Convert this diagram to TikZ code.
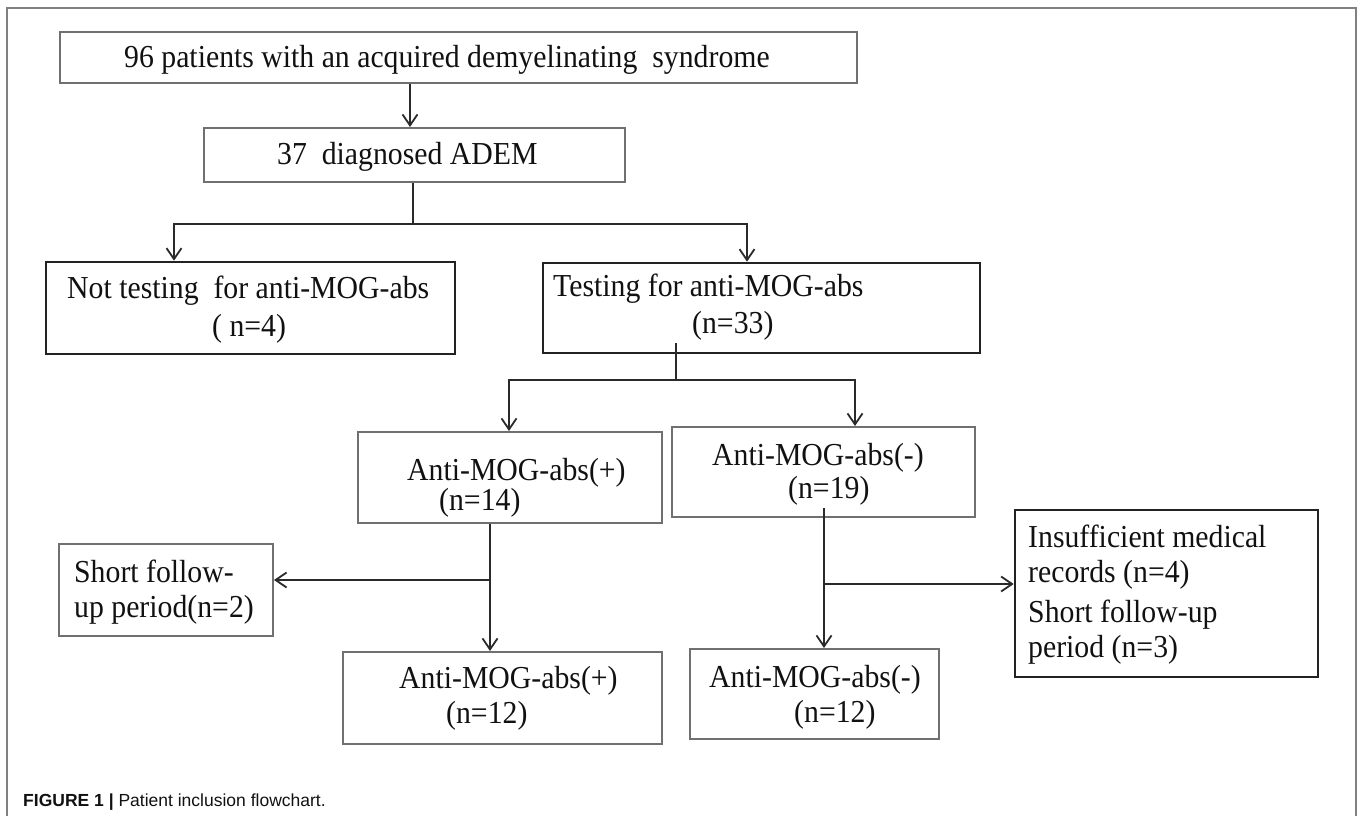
\documentclass[tikz,border=0pt]{standalone}
\usepackage{fontspec}
\setmainfont{Liberation Serif}[FakeStretch=0.93]
\setsansfont{Liberation Sans}
\usetikzlibrary{arrows.meta}
\definecolor{boxgray}{HTML}{707070}
\definecolor{boxdark}{HTML}{222222}
\definecolor{linecol}{HTML}{2A2A2A}
\definecolor{framecol}{HTML}{808080}
\definecolor{txtcol}{HTML}{111111}
\tikzset{
  graybox/.style={draw=boxgray, line width=2pt, inner sep=0pt, fill=none},
  darkbox/.style={draw=boxdark, line width=2.6pt, inner sep=0pt, fill=none},
  conn/.style={draw=linecol, line width=2pt},
  arr/.style={conn, -{Straight Barb[length=11pt,width=15pt,line width=1.8pt]}},
  txt/.style={anchor=base west, inner sep=0pt, text=txtcol, font=\fontsize{32}{38}\selectfont},
}
\begin{document}
\begin{tikzpicture}[x=1pt,y=1pt]
\useasboundingbox (0,0) rectangle (1357,-816);
% outer frame
\draw[framecol, line width=1.3pt] (7,-816) -- (7,-8) -- (1356,-8) -- (1356,-816);

% boxes
\node[graybox, minimum width=797pt, minimum height=50pt] (b1) at (458.5,-57.5) {};
\node[graybox, minimum width=421pt, minimum height=54pt] (b2) at (414.5,-155) {};
\node[darkbox, minimum width=409pt, minimum height=92pt] (b3) at (250.5,-308) {};
\node[darkbox, minimum width=437pt, minimum height=90pt] (b4) at (761.5,-308) {};
\node[graybox, minimum width=304pt, minimum height=91pt] (b5) at (510,-477.5) {};
\node[graybox, minimum width=303pt, minimum height=90pt] (b6) at (823.5,-472) {};
\node[graybox, minimum width=214pt, minimum height=92pt] (b8) at (166,-590) {};
\node[graybox, minimum width=319pt, minimum height=92pt] (b7) at (502.5,-698) {};
\node[graybox, minimum width=249pt, minimum height=90pt] (b9) at (814.5,-694) {};
\node[darkbox, minimum width=303pt, minimum height=167pt] (b10) at (1166.5,-593.5) {};

% texts
\node[txt] (t1) at (124,-67) {96 patients with an acquired demyelinating\ \ syndrome};
\node[txt] (t2) at (277,-164) {37\ \ diagnosed ADEM};
\node[txt] (t3a) at (67,-298) {Not testing\ \ for anti-MOG-abs};
\node[txt] (t3b) at (212,-336) {( n=4)};
\node[txt] (t4a) at (553,-296) {Testing for anti-MOG-abs};
\node[txt] (t4b) at (692,-333) {(n=33)};
\node[txt] (t5a) at (407,-480) {Anti-MOG-abs(+)};
\node[txt] (t5b) at (439,-510) {(n=14)};
\node[txt] (t6a) at (712,-465) {Anti-MOG-abs(-)};
\node[txt] (t6b) at (788,-498) {(n=19)};
\node[txt] (t8a) at (74,-582) {Short follow-};
\node[txt] (t8b) at (74,-617) {up period(n=2)};
\node[txt] (t7a) at (399,-688) {Anti-MOG-abs(+)};
\node[txt] (t7b) at (446,-723) {(n=12)};
\node[txt] (t9a) at (709,-687) {Anti-MOG-abs(-)};
\node[txt] (t9b) at (794,-722) {(n=12)};
\node[txt] (t10a) at (1028,-547) {Insufficient medical};
\node[txt] (t10b) at (1028,-582) {records (n=4)};
\node[txt] (t10c) at (1028,-622) {Short follow-up};
\node[txt] (t10d) at (1028,-657) {period (n=3)};

% caption
\node[anchor=base west, inner sep=0pt, text=txtcol, font=\sffamily\fontsize{17.5}{20}\selectfont] (cap) at (23,-806) {\textbf{FIGURE 1 |} Patient inclusion flowchart.};

% connectors
\coordinate (x1) at (410,0);
\draw[arr] (b1.south -| x1) -- (b2.north -| x1);

\coordinate (j1) at (413,-224);
\coordinate (j1l) at (174,-224);
\coordinate (j1r) at (747,-224);
\draw[conn] (b2.south -| j1) -- (j1);
\draw[arr] (j1) -- (j1l) -- (b3.north -| j1l);
\draw[arr] (j1) -- (j1r) -- (b4.north -| j1r);

\coordinate (s4) at (676,-343);
\coordinate (j2) at (676,-380);
\coordinate (j2l) at (509,-380);
\coordinate (j2r) at (855,-380);
\draw[conn] (s4) -- (j2);
\draw[arr] (j2) -- (j2l) -- (b5.north -| j2l);
\draw[arr] (j2) -- (j2r) -- (b6.north -| j2r);

\coordinate (j3) at (490,-580);
\draw[arr] (b5.south -| j3) -- (b7.north -| j3);
\draw[arr] (j3) -- (b8.east |- j3);

\coordinate (s6) at (824,-508);
\coordinate (j4) at (824,-584);
\draw[arr] (s6) -- (b9.north -| s6);
\draw[arr] (j4) -- (b10.west |- j4);
\end{tikzpicture}
\end{document}
